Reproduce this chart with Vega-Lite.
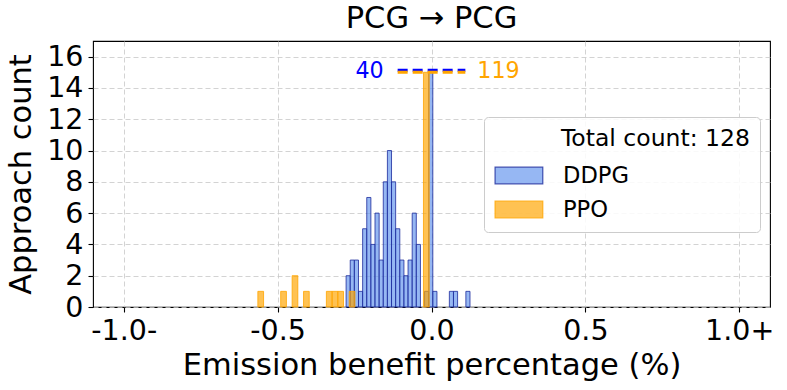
{
  "$schema": "https://vega.github.io/schema/vega-lite/v6.json",
  "autosize": {"type": "none"},
  "width": 677,
  "height": 266,
  "padding": {"left": 93, "top": 41, "right": 17, "bottom": 83},
  "title": {"text": "PCG → PCG", "fontSize": 30.5, "font": "DejaVu Sans", "fontWeight": "normal", "color": "black", "offset": 7},
  "config": {
    "font": "DejaVu Sans",
    "view": {"stroke": "black", "strokeWidth": 1.1},
    "axis": {
      "labelFont": "DejaVu Sans", "labelFontSize": 28.5, "labelColor": "black",
      "titleFont": "DejaVu Sans", "titleFontSize": 30.5, "titleFontWeight": "normal", "titleColor": "black",
      "tickColor": "black", "tickSize": 5, "tickWidth": 1.1, "domain": false,
      "grid": true, "gridColor": "#c8c8c8", "gridDash": [5, 3], "gridWidth": 0.8,
      "labelFlush": false, "labelOverlap": false
    },
    "legend": {
      "orient": "none", "legendX": 391, "legendY": 76,
      "titleFont": "DejaVu Sans", "titleFontSize": 23.5, "titleFontWeight": "normal", "titleColor": "black", "titleLimit": 400,
      "labelFont": "DejaVu Sans", "labelFontSize": 22.6, "labelColor": "black",
      "symbolType": "M-1,-0.7H3V0.7H-1Z", "symbolSize": 569, "symbolStrokeWidth": 1.2,
      "labelOffset": 43, "rowPadding": 9, "titlePadding": 12, "padding": 10,
      "fillColor": "rgba(255,255,255,0.85)", "strokeColor": "#cccccc", "cornerRadius": 4
    }
  },
  "datasets": {
    "bins": [
      {"model": "DDPG", "lo": -0.2775, "hi": -0.2641, "count": 2, "drawn": 2},
      {"model": "DDPG", "lo": -0.2641, "hi": -0.2507, "count": 3, "drawn": 3},
      {"model": "DDPG", "lo": -0.2507, "hi": -0.2372, "count": 3, "drawn": 3},
      {"model": "DDPG", "lo": -0.2372, "hi": -0.2238, "count": 1, "drawn": 1},
      {"model": "DDPG", "lo": -0.2238, "hi": -0.2104, "count": 5, "drawn": 5},
      {"model": "DDPG", "lo": -0.2104, "hi": -0.1970, "count": 7, "drawn": 7},
      {"model": "DDPG", "lo": -0.1970, "hi": -0.1836, "count": 4, "drawn": 4},
      {"model": "DDPG", "lo": -0.1836, "hi": -0.1701, "count": 6, "drawn": 6},
      {"model": "DDPG", "lo": -0.1701, "hi": -0.1567, "count": 3, "drawn": 3},
      {"model": "DDPG", "lo": -0.1567, "hi": -0.1433, "count": 8, "drawn": 8},
      {"model": "DDPG", "lo": -0.1433, "hi": -0.1299, "count": 10, "drawn": 10},
      {"model": "DDPG", "lo": -0.1299, "hi": -0.1165, "count": 8, "drawn": 8},
      {"model": "DDPG", "lo": -0.1165, "hi": -0.1030, "count": 5, "drawn": 5},
      {"model": "DDPG", "lo": -0.1030, "hi": -0.0896, "count": 3, "drawn": 3},
      {"model": "DDPG", "lo": -0.0896, "hi": -0.0762, "count": 2, "drawn": 2},
      {"model": "DDPG", "lo": -0.0762, "hi": -0.0628, "count": 3, "drawn": 3},
      {"model": "DDPG", "lo": -0.0628, "hi": -0.0494, "count": 6, "drawn": 6},
      {"model": "DDPG", "lo": -0.0494, "hi": -0.0359, "count": 4, "drawn": 4},
      {"model": "DDPG", "lo": -0.0225, "hi": -0.0091, "count": 1, "drawn": 1},
      {"model": "DDPG", "lo": -0.0091, "hi": 0.0043, "count": 40, "drawn": 15},
      {"model": "DDPG", "lo": 0.0043, "hi": 0.0177, "count": 1, "drawn": 1},
      {"model": "DDPG", "lo": 0.0580, "hi": 0.0714, "count": 1, "drawn": 1},
      {"model": "DDPG", "lo": 0.0714, "hi": 0.0848, "count": 1, "drawn": 1},
      {"model": "DDPG", "lo": 0.1117, "hi": 0.1251, "count": 1, "drawn": 1},
      {"model": "PPO", "lo": -0.5643, "hi": -0.5457, "count": 1, "drawn": 1},
      {"model": "PPO", "lo": -0.4901, "hi": -0.4715, "count": 1, "drawn": 1},
      {"model": "PPO", "lo": -0.4529, "hi": -0.4344, "count": 2, "drawn": 2},
      {"model": "PPO", "lo": -0.4158, "hi": -0.3973, "count": 1, "drawn": 1},
      {"model": "PPO", "lo": -0.3416, "hi": -0.3230, "count": 1, "drawn": 1},
      {"model": "PPO", "lo": -0.3230, "hi": -0.3045, "count": 1, "drawn": 1},
      {"model": "PPO", "lo": -0.3045, "hi": -0.2859, "count": 1, "drawn": 1},
      {"model": "PPO", "lo": -0.2673, "hi": -0.2488, "count": 1, "drawn": 1},
      {"model": "PPO", "lo": -0.0261, "hi": -0.0075, "count": 119, "drawn": 15}
    ],
    "overflow": [
      {"model": "DDPG", "lo": -0.11, "hi": 0.11, "level": 15, "count": 40},
      {"model": "PPO", "lo": -0.11, "hi": 0.11, "level": 15, "count": 119}
    ]
  },
  "layer": [
    {
      "data": {"name": "bins"},
      "mark": {"type": "bar", "fillOpacity": 0.68, "strokeWidth": 1, "strokeOpacity": 0.8},
      "encoding": {
        "x": {"field": "lo", "type": "quantitative", "title": "Emission benefit percentage (%)",
              "scale": {"domain": [-1.1, 1.1], "nice": false, "zero": false},
              "axis": {"values": [-1, -0.5, 0, 0.5, 1], "labelPadding": 4, "titlePadding": 6, "labelOverlap": false,
                       "labelExpr": "datum.value == -1 ? '-1.0-' : datum.value == 1 ? '1.0+' : datum.value == -0.5 ? '-0.5' : datum.value == 0 ? '0.0' : '0.5'"}},
        "x2": {"field": "hi"},
        "y": {"field": "drawn", "type": "quantitative", "stack": null, "title": "Approach count",
              "scale": {"domain": [0, 17], "nice": false},
              "axis": {"values": [0, 2, 4, 6, 8, 10, 12, 14, 16], "tickCount": 9, "labelPadding": 5, "titlePadding": 10, "labelOverlap": false}},
        "y2": {"datum": 0},
        "color": {"field": "model", "type": "nominal",
                  "scale": {"domain": ["DDPG", "PPO"], "range": ["#6495ed", "#ffa500"]},
                  "legend": {"title": "Total count: 128",
                             "encode": {"title": {"update": {"dx": {"value": 67}}},
                                        "symbols": {"update": {"fillOpacity": {"value": 0.68}, "strokeOpacity": {"value": 0.8}}}}}},
        "stroke": {"field": "model", "type": "nominal",
                   "scale": {"domain": ["DDPG", "PPO"], "range": ["#1c2a9c", "#ffa500"]},
                   "legend": {"title": "Total count: 128",
                              "encode": {"title": {"update": {"dx": {"value": 67}}},
                                         "symbols": {"update": {"fillOpacity": {"value": 0.68}, "strokeOpacity": {"value": 0.8}}}}}}
      }
    },
    {
      "data": {"name": "overflow"},
      "transform": [{"filter": "datum.model == 'DDPG'"}],
      "mark": {"type": "rule", "color": "#0000ff", "strokeWidth": 3, "strokeDash": [10, 5], "yOffset": -2},
      "encoding": {
        "x": {"field": "lo", "type": "quantitative", "title": "Emission benefit percentage (%)"},
        "x2": {"field": "hi"},
        "y": {"field": "level", "type": "quantitative", "title": "Approach count",
              "axis": {"values": [0, 2, 4, 6, 8, 10, 12, 14, 16], "tickCount": 9, "labelPadding": 5, "titlePadding": 10, "labelOverlap": false}}
      }
    },
    {
      "data": {"name": "overflow"},
      "transform": [{"filter": "datum.model == 'PPO'"}],
      "mark": {"type": "rule", "color": "#ffa500", "strokeWidth": 3, "strokeDash": [10, 5]},
      "encoding": {
        "x": {"field": "lo", "type": "quantitative", "title": "Emission benefit percentage (%)"},
        "x2": {"field": "hi"},
        "y": {"field": "level", "type": "quantitative", "title": "Approach count",
              "axis": {"values": [0, 2, 4, 6, 8, 10, 12, 14, 16], "tickCount": 9, "labelPadding": 5, "titlePadding": 10, "labelOverlap": false}}
      }
    },
    {
      "data": {"name": "overflow"},
      "transform": [{"filter": "datum.model == 'DDPG'"}],
      "mark": {"type": "text", "color": "#0000ff", "fontSize": 22.2, "align": "right", "baseline": "middle", "dx": -14, "dy": -1},
      "encoding": {
        "x": {"field": "lo", "type": "quantitative", "title": "Emission benefit percentage (%)"},
        "y": {"field": "level", "type": "quantitative", "title": "Approach count",
              "axis": {"values": [0, 2, 4, 6, 8, 10, 12, 14, 16], "tickCount": 9, "labelPadding": 5, "titlePadding": 10, "labelOverlap": false}},
        "text": {"field": "count", "type": "quantitative"}
      }
    },
    {
      "data": {"name": "overflow"},
      "transform": [{"filter": "datum.model == 'PPO'"}],
      "mark": {"type": "text", "color": "#ffa500", "fontSize": 22.2, "align": "left", "baseline": "middle", "dx": 12, "dy": -1},
      "encoding": {
        "x": {"field": "hi", "type": "quantitative", "title": "Emission benefit percentage (%)"},
        "y": {"field": "level", "type": "quantitative", "title": "Approach count",
              "axis": {"values": [0, 2, 4, 6, 8, 10, 12, 14, 16], "tickCount": 9, "labelPadding": 5, "titlePadding": 10, "labelOverlap": false}},
        "text": {"field": "count", "type": "quantitative"}
      }
    }
  ]
}
